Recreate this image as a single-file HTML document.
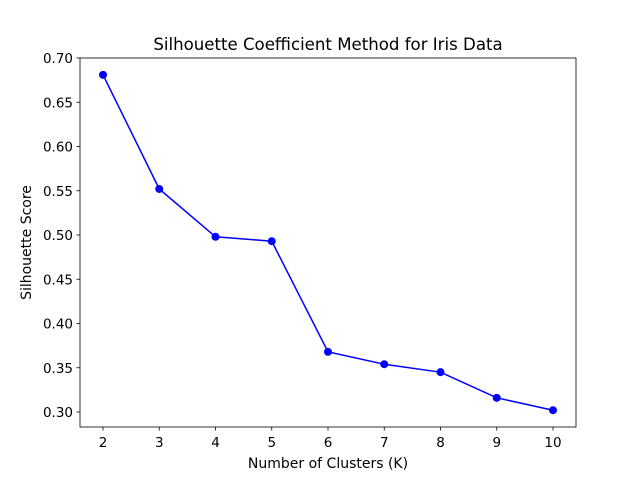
<!DOCTYPE html>
<html><head><meta charset="utf-8"><style>
body{margin:0;background:#fff}
svg text{font-family:"DejaVu Sans","Liberation Sans",sans-serif;fill:#000}
</style></head><body>
<svg id="c" width="640" height="480" xmlns="http://www.w3.org/2000/svg">
<rect width="640" height="480" fill="#fff"/>
<text x="328" y="50" font-size="16.6" text-anchor="middle">Silhouette Coefficient Method for Iris Data</text>
<text x="328" y="468" font-size="14" text-anchor="middle">Number of Clusters (K)</text>
<text transform="translate(31,242.5) rotate(-90)" font-size="14" text-anchor="middle">Silhouette Score</text>
<g id="ticks"></g>
<g id="plot"></g>
<rect x="80" y="58" width="496" height="369" fill="none" stroke="#000" stroke-width="0.8"/>
</svg>
<script>
const categories=[2,3,4,5,6,7,8,9,10];
const scores=[0.681,0.552,0.498,0.493,0.368,0.354,0.345,0.316,0.302];
const yTicks=[0.30,0.35,0.40,0.45,0.50,0.55,0.60,0.65,0.70];
const xTicks=[2,3,4,5,6,7,8,9,10];
const NS='http://www.w3.org/2000/svg';
function xs(k){return 103+(k-2)*56.25;}
function ys(v){return 58+(0.70-v)/0.05*44.25;}
const tg=document.getElementById('ticks'),pg=document.getElementById('plot');
function mk(t,a,p){const e=document.createElementNS(NS,t);for(const k in a)e.setAttribute(k,a[k]);p.appendChild(e);return e;}
yTicks.forEach(v=>{const y=ys(v);
const l=mk('line',{x1:76.5,x2:80,y1:y,y2:y,stroke:'#000','stroke-width':0.8},tg);


const t=mk('text',{x:73,y:y+5,'font-size':13.5,'text-anchor':'end'},tg);t.textContent=v.toFixed(2);

});
xTicks.forEach(k=>{const x=xs(k);
const l=mk('line',{x1:x,x2:x,y1:427,y2:430.5,stroke:'#000','stroke-width':0.8},tg);


const t=mk('text',{x:x,y:447,'font-size':13.5,'text-anchor':'middle'},tg);t.textContent=k;

});
const pts=categories.map((k,i)=>xs(k)+','+ys(scores[i])).join(' ');
const pl=mk('polyline',{points:pts,fill:'none',stroke:'#0000ff','stroke-width':1.5},pg);


categories.forEach((k,i)=>{const c=mk('circle',{cx:xs(k),cy:ys(scores[i]),r:4,fill:'#0000ff'},pg);

});
</script>
</body></html>
